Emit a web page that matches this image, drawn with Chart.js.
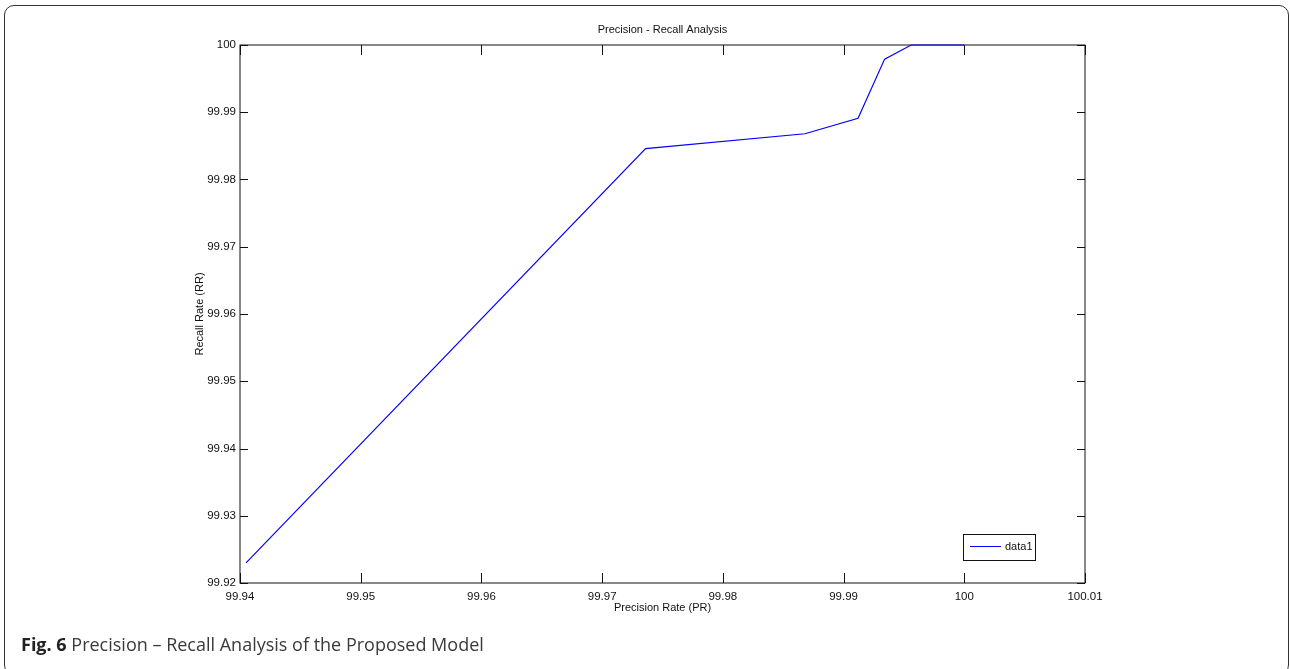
<!DOCTYPE html>
<html>
<head>
<meta charset="utf-8">
<script src="https://cdn.jsdelivr.net/npm/chart.js@4/dist/chart.umd.min.js"></script>
<style>
  body { margin: 0; background: #fff; }
  #frame {
    position: absolute; left: 4px; top: 5px; width: 1285px; height: 670px;
    border: 1.5px solid #333; border-radius: 10px; box-sizing: border-box;
  }
  #prChart { position: absolute; left: 0; top: 0; }
  #caption {
    position: absolute; left: 21px; top: 632px;
    font-family: "Open Sans", "Noto Sans", sans-serif; font-size: 18px; line-height: 24px;
    color: #3a3a3a; white-space: nowrap;
  }
  #caption b { color: #222; }
</style>
</head>
<body>
<div id="frame"></div>
<canvas id="prChart" width="1290" height="669"></canvas>
<div id="caption"><b>Fig. 6</b> Precision – Recall Analysis of the Proposed Model</div>
<script>
// valeurs
const precisionRate = [99.9405, 99.9736, 99.9868, 99.9912, 99.9934, 99.9956, 100];
const recallRate = [99.923, 99.9846, 99.9868, 99.9891, 99.9979, 100, 100];
const seriesLabel = "data1";
const chartTitle = "Precision - Recall Analysis";
const xTitle = "Precision Rate (PR)";
const yTitle = "Recall Rate (RR)";

const fontFam = '"Liberation Sans", Arial, Helvetica, sans-serif';
const fmt = (v) => String(Number(Number(v).toFixed(2)));

// cadre, graduations internes, titre et légende façon MATLAB
const matlabAxes = {
  id: "matlabAxes",
  beforeDatasetsDraw(chart) {
    const { ctx, chartArea: a, scales } = chart;
    ctx.save();
    ctx.strokeStyle = "#111";
    ctx.lineWidth = 1;
    ctx.strokeRect(a.left, a.top, a.right - a.left, a.bottom - a.top);
    ctx.beginPath();
    scales.x.ticks.forEach((t) => {
      const px = Math.round(scales.x.getPixelForValue(t.value)) + 0.5;
      ctx.moveTo(px, a.bottom); ctx.lineTo(px, a.bottom - 10);
      ctx.moveTo(px, a.top); ctx.lineTo(px, a.top + 10);
    });
    scales.y.ticks.forEach((t) => {
      const py = Math.round(scales.y.getPixelForValue(t.value)) + 0.5;
      ctx.moveTo(a.left, py); ctx.lineTo(a.left + 8, py);
      ctx.moveTo(a.right, py); ctx.lineTo(a.right - 8, py);
    });
    ctx.stroke();
    ctx.restore();
  },
  afterDraw(chart) {
    const { ctx, chartArea: a } = chart;
    ctx.save();
    ctx.fillStyle = "#111";
    ctx.font = "11px " + fontFam;
    ctx.textAlign = "center";
    ctx.textBaseline = "middle";
    ctx.fillText(chartTitle, (a.left + a.right) / 2, 30);

    // légende
    const w = 72, h = 26;
    const lx = a.right - 50 - w, ly = a.bottom - 23.5 - h;
    ctx.fillStyle = "#fff";
    ctx.fillRect(lx, ly, w, h);
    ctx.strokeStyle = "#111";
    ctx.lineWidth = 1;
    ctx.strokeRect(Math.round(lx) + 0.5, Math.round(ly) + 0.5, w, h);
    const ds = chart.data.datasets[0];
    ctx.strokeStyle = ds.borderColor;
    ctx.beginPath();
    ctx.moveTo(lx + 7, ly + h / 2);
    ctx.lineTo(lx + 38, ly + h / 2);
    ctx.stroke();
    ctx.fillStyle = "#111";
    ctx.textAlign = "left";
    ctx.fillText(ds.label, lx + 42, ly + h / 2 + 0.5);
    ctx.restore();
  },
};

const ctxPR = document.getElementById("prChart");
new Chart(ctxPR, {
  type: "line",
  data: {
    datasets: [
      {
        label: seriesLabel,
        data: precisionRate.map((p, i) => ({ x: p, y: recallRate[i] })),
        borderColor: "#0000ff",
        borderWidth: 1.2,
        pointRadius: 0,
        tension: 0,
        clip: false,
      },
    ],
  },
  options: {
    responsive: false,
    animation: false,
    layout: { padding: { left: 188, right: 205, top: 45, bottom: 46 } },
    plugins: { legend: { display: false }, title: { display: false }, tooltip: { enabled: false } },
    scales: {
      x: {
        type: "linear",
        min: 99.94,
        max: 100.01,
        grid: { display: false, drawTicks: false },
        border: { display: false },
        ticks: { stepSize: 0.01, padding: 7, color: "#111", font: { family: fontFam, size: 11.5 }, callback: fmt, maxRotation: 0, autoSkip: false },
        title: { display: true, text: xTitle, color: "#111", font: { family: fontFam, size: 11 }, padding: { top: 0, bottom: 8 } },
        afterFit: (s) => { s.height = 40; },
      },
      y: {
        type: "linear",
        min: 99.92,
        max: 100,
        grid: { display: false, drawTicks: false },
        border: { display: false },
        ticks: { stepSize: 0.01, padding: 4, color: "#111", font: { family: fontFam, size: 11.5 }, callback: fmt, autoSkip: false },
        title: { display: true, text: yTitle, color: "#111", font: { family: fontFam, size: 11 }, padding: { top: 5, bottom: 0 } },
        afterFit: (s) => { s.width = 52; },
      },
    },
  },
  plugins: [matlabAxes],
});
</script>
</body>
</html>
